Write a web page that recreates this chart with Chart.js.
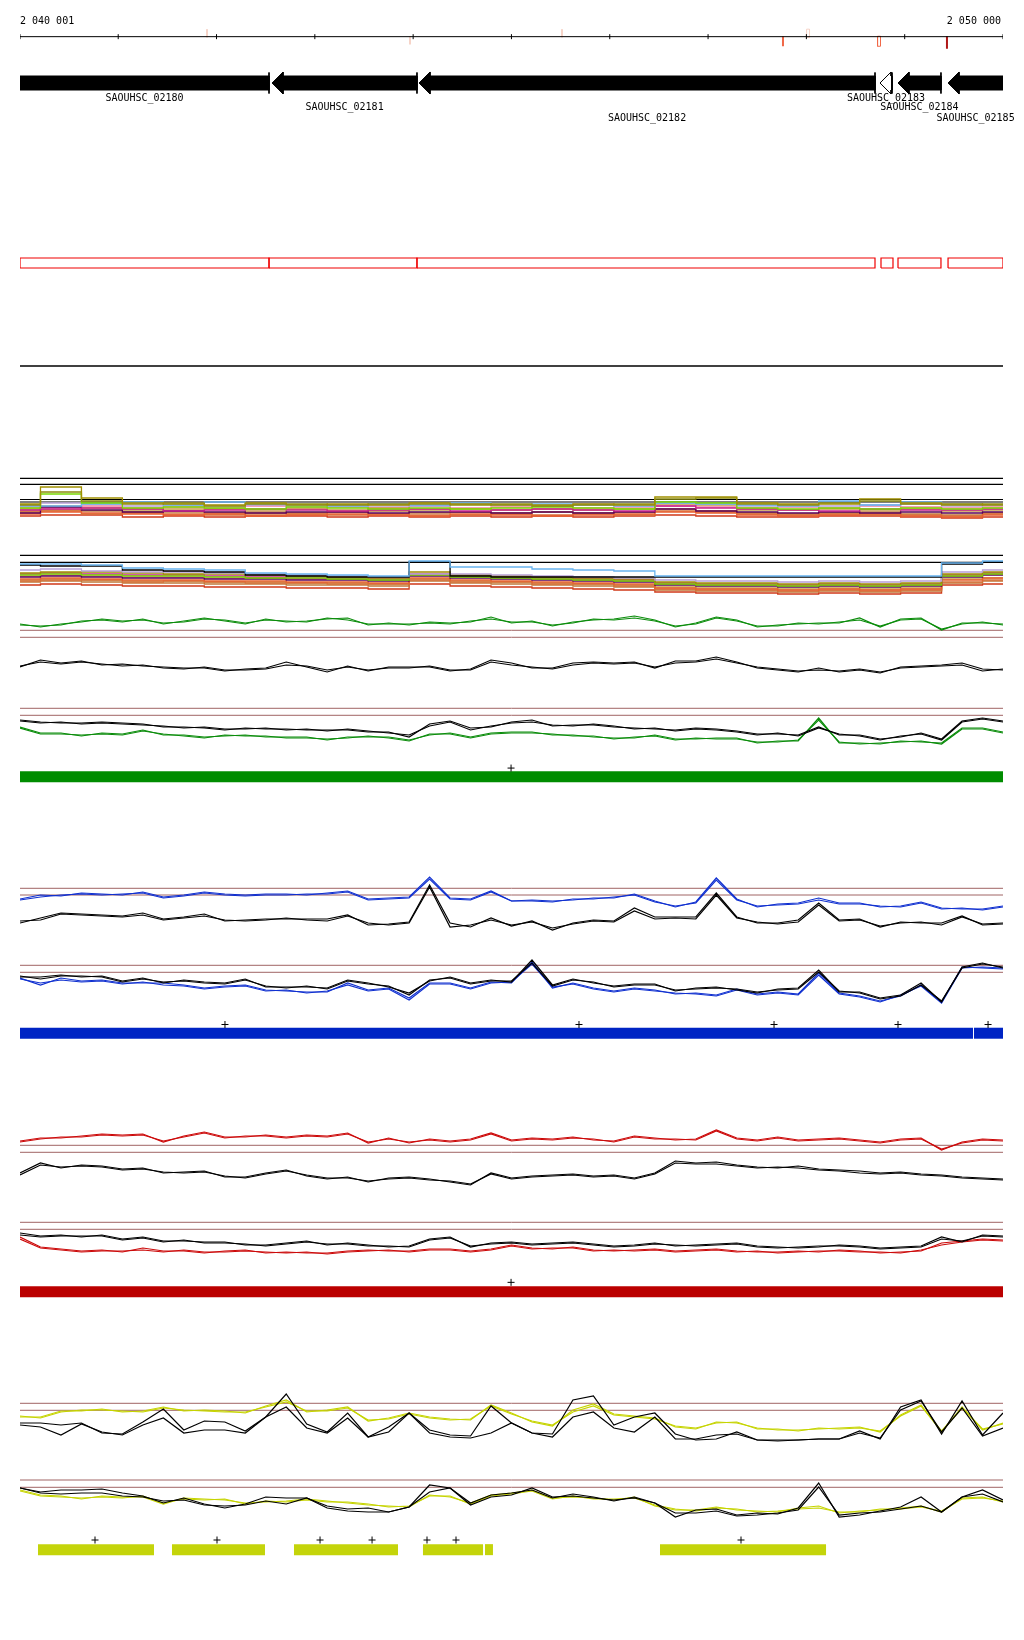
<!DOCTYPE html>
<html>
<head>
<meta charset="utf-8">
<script src="https://cdn.jsdelivr.net/npm/chart.js@4.4.1/dist/chart.umd.min.js"></script>
<style>
body { margin: 0; background: #fff; }
#page { position: relative; width: 1024px; height: 1640px; overflow: hidden; }
#page canvas { position: absolute; left: 0; }
</style>
</head>
<body>
<div id="page"></div>
<script>
// region shown
var START = 2040001, END = 2050000;
var RULER_TICKS = [2040001, 2041000, 2042000, 2043000, 2044000, 2045000, 2046000, 2047000, 2048000, 2049000, 2050000];
var RULER_LABELS = ['2 040 001', '2 050 000'];

// variants next to the ruler
var VAR_POS = [2041903, 2043968, 2045514, 2047762, 2048017, 2048739, 2049430];
var VAR_STRAND = [1, -1, 1, -1, 1, -1, -1];
var VAR_SCORE = [1, 1, 1, 2, 1, 2, 3];
var VAR_OPEN = [false, false, false, false, true, true, false];

// genes (all on the minus strand)
var GENE_NAMES = ['SAOUHSC_02180', 'SAOUHSC_02181', 'SAOUHSC_02182', 'SAOUHSC_02183', 'SAOUHSC_02184', 'SAOUHSC_02185'];
var GENE_START = [2039000, 2042565, 2044060, 2048749, 2048932, 2049441];
var GENE_END = [2042534, 2044039, 2048698, 2048871, 2049369, 2050600];
var GENE_ROW = [0, 1, 2, 0, 1, 2];
var GENE_OPEN = [false, false, false, true, false, false];

// transcript boxes
var BOX_START = [2040001, 2042534, 2044039, 2048759, 2048932, 2049441];
var BOX_END = [2042534, 2044039, 2048698, 2048881, 2049369, 2050000];

// multi-sample tracks (25 bins)
var M1_OLIVE = [26, 43, 32, 27, 26, 25, 27, 25, 26, 25, 27, 26, 25, 25, 26, 25, 33, 33, 27, 26, 26, 31, 27, 26, 25];
var M1_OLIVE2 = [25, 38, 29, 26, 27, 24, 26, 26, 25, 26, 26, 25, 26, 24, 25, 26, 31, 32, 26, 25, 27, 29, 26, 25, 26];
var M1_LIME = [22, 36, 27, 22, 23, 22, 21, 23, 22, 21, 22, 21, 22, 23, 22, 21, 28, 27, 22, 21, 22, 21, 22, 21, 22];
var M1_SKY = [24, 24, 26, 28, 25, 28, 26, 25, 24, 26, 25, 27, 25, 26, 25, 24, 27, 26, 25, 24, 29, 25, 28, 26, 25];
var M1_MAGENTA = [20, 21, 22, 21, 19, 20, 21, 20, 19, 20, 21, 19, 20, 21, 20, 19, 24, 22, 21, 20, 19, 21, 20, 20, 21];
var M1_PLUM = [17, 23, 20, 18, 19, 18, 17, 18, 18, 17, 18, 18, 17, 18, 17, 18, 21, 19, 18, 17, 18, 17, 18, 17, 18];
var M1_LILAC = [25, 27, 26, 24, 25, 24, 25, 24, 25, 24, 24, 26, 25, 24, 26, 25, 27, 26, 24, 25, 24, 25, 26, 24, 25];
var M1_ORANGE = [16, 18, 17, 16, 15, 16, 14, 15, 16, 15, 14, 16, 15, 14, 15, 16, 18, 17, 15, 14, 15, 16, 14, 13, 15];
var M1_ORANGE2 = [18, 19, 16, 17, 16, 15, 16, 16, 15, 16, 15, 15, 16, 15, 16, 15, 19, 18, 16, 15, 16, 15, 15, 14, 16];
var M1_BROWN = [19, 20, 19, 18, 18, 17, 18, 17, 18, 19, 17, 18, 17, 18, 17, 18, 21, 19, 17, 16, 17, 18, 16, 15, 17];
var M1_RED = [14, 15, 15, 13, 14, 13, 14, 14, 13, 14, 13, 14, 13, 14, 13, 14, 15, 14, 13, 13, 14, 14, 13, 12, 13];
var M1_TAN = [21, 24, 22, 20, 21, 21, 20, 21, 20, 22, 20, 21, 20, 21, 20, 21, 26, 25, 20, 20, 21, 20, 21, 19, 20];
var M1_PINK = [23, 22, 24, 22, 23, 22, 24, 22, 23, 22, 24, 22, 23, 24, 22, 23, 24, 23, 22, 23, 22, 24, 23, 22, 23];
var M1_LEVELS = [51.7, 45.7, 30.5, 28];

var M2_SKY = [36, 36, 35, 32, 31, 30, 27, 26, 25, 24, 39, 33, 33, 31, 30, 29, 24, 24, 24, 24, 24, 24, 24, 37, 39];
var M2_BLACK = [35, 34, 34, 30, 29, 28, 25, 24, 23, 23, 38, 24, 23, 23, 23, 23, 23, 23, 23, 23, 23, 23, 23, 36, 38];
var M2_LILAC = [30, 31, 29, 28, 28, 27, 26, 25, 24, 23, 26, 26, 25, 24, 23, 22, 20, 19, 19, 18, 19, 18, 19, 28, 30];
var M2_OLIVE = [27, 28, 28, 27, 26, 26, 25, 24, 23, 22, 28, 25, 24, 23, 22, 21, 18, 17, 17, 16, 17, 16, 17, 26, 28];
var M2_LIME = [25, 26, 25, 24, 24, 23, 22, 22, 21, 20, 25, 23, 22, 21, 20, 19, 16, 15, 15, 14, 15, 14, 15, 24, 26];
var M2_MAGENTA = [26, 27, 26, 25, 25, 24, 23, 22, 22, 21, 26, 24, 23, 22, 21, 20, 17, 16, 16, 15, 16, 15, 16, 25, 27];
var M2_PLUM = [23, 24, 23, 22, 22, 21, 21, 20, 20, 19, 24, 22, 21, 20, 19, 18, 15, 14, 14, 13, 14, 13, 14, 23, 25];
var M2_ORANGE = [21, 22, 21, 20, 20, 19, 19, 18, 18, 17, 22, 20, 19, 18, 17, 16, 12, 11, 11, 10, 11, 10, 11, 20, 22];
var M2_ORANGE2 = [19, 20, 20, 18, 19, 18, 17, 17, 16, 16, 20, 18, 18, 16, 16, 14, 11, 10, 10, 9, 10, 9, 10, 18, 20];
var M2_BROWN = [18, 19, 18, 17, 17, 16, 16, 15, 15, 14, 19, 17, 16, 15, 14, 13, 10, 9, 9, 8, 9, 8, 9, 17, 19];
var M2_RED = [15, 16, 15, 14, 14, 13, 13, 12, 12, 11, 16, 14, 13, 12, 11, 10, 8, 7, 7, 6, 7, 6, 7, 15, 16];
var M2_TAN = [20, 21, 20, 19, 19, 18, 18, 17, 17, 16, 21, 19, 18, 17, 16, 15, 13, 12, 12, 11, 12, 11, 12, 21, 22];
var M2_PINK = [24, 25, 24, 23, 23, 22, 22, 21, 21, 20, 25, 23, 22, 21, 20, 19, 16, 15, 15, 14, 15, 14, 15, 24, 26];
var M2_LEVELS = [44.7, 37.7];

// green condition (49 bins)
var G1_A = [15, 14, 15, 19, 20, 18, 21, 16, 19, 22, 19, 16, 21, 18, 19, 21, 22, 15, 17, 15, 18, 17, 18, 23, 17, 19, 14, 18, 20, 21, 24, 20, 13, 17, 23, 20, 13, 15, 16, 17, 17, 22, 13, 21, 22, 10, 17, 17, 16];
var G1_B = [16, 13, 16, 18, 21, 19, 20, 17, 18, 21, 20, 17, 20, 19, 18, 22, 20, 16, 16, 16, 17, 16, 19, 21, 18, 18, 15, 17, 21, 20, 22, 19, 14, 16, 22, 19, 14, 14, 17, 16, 18, 20, 14, 20, 21, 11, 16, 18, 15];
var G1_LEVELS = [9.7, 2.7];
var G2_A = [33, 40, 37, 39, 35, 36, 34, 33, 32, 32, 29, 31, 32, 38, 33, 28, 34, 29, 33, 33, 33, 29, 31, 40, 37, 32, 32, 37, 38, 37, 38, 32, 39, 39, 43, 38, 32, 30, 28, 32, 28, 30, 27, 33, 34, 35, 37, 31, 30];
var G2_B = [34, 38, 36, 38, 36, 34, 35, 32, 31, 33, 30, 30, 31, 35, 34, 30, 33, 30, 32, 32, 34, 30, 30, 38, 35, 33, 31, 35, 37, 36, 37, 33, 37, 38, 41, 37, 33, 31, 29, 30, 29, 31, 28, 32, 33, 34, 35, 29, 31];
var G3_K_A = [35, 33, 32, 32, 33, 32, 31, 28, 28, 27, 25, 27, 26, 26, 25, 25, 25, 23, 23, 18, 31, 34, 27, 28, 33, 35, 29, 30, 30, 28, 27, 26, 25, 27, 26, 24, 21, 21, 20, 28, 20, 20, 16, 18, 22, 16, 34, 37, 34];
var G3_K_B = [34, 32, 33, 31, 32, 31, 30, 29, 27, 28, 26, 26, 27, 25, 26, 24, 26, 24, 22, 20, 29, 33, 25, 29, 32, 33, 30, 29, 31, 29, 26, 27, 24, 26, 25, 23, 20, 22, 19, 27, 21, 19, 15, 19, 21, 15, 33, 36, 33];
var G3_C_A = [28, 22, 22, 19, 22, 21, 25, 20, 20, 18, 19, 20, 18, 18, 18, 15, 18, 18, 18, 15, 20, 22, 18, 22, 23, 23, 20, 20, 18, 17, 17, 20, 16, 16, 17, 17, 12, 14, 14, 37, 12, 12, 11, 14, 13, 12, 27, 27, 23];
var G3_C_B = [27, 21, 21, 20, 21, 20, 24, 21, 19, 17, 20, 19, 19, 17, 17, 16, 17, 19, 17, 14, 21, 21, 17, 21, 22, 22, 21, 19, 19, 16, 18, 19, 15, 17, 16, 16, 13, 13, 15, 35, 13, 11, 12, 13, 14, 11, 26, 26, 22];
var G3_LEVELS = [46.7, 39.7];
var G_PLUS = [2044996];
var G_BARS = [[2040001, 2050000]];

// blue condition
var B1_C_A = [36, 40, 39, 42, 41, 40, 43, 38, 40, 43, 41, 40, 41, 41, 40, 42, 44, 36, 37, 38, 58, 37, 36, 44, 34, 35, 34, 35, 37, 37, 41, 34, 28, 33, 57, 36, 28, 31, 32, 37, 32, 32, 28, 29, 33, 27, 26, 26, 29];
var B1_C_B = [35, 38, 40, 41, 40, 41, 42, 37, 39, 42, 40, 39, 40, 40, 41, 41, 43, 35, 36, 37, 56, 36, 35, 43, 34, 34, 33, 36, 36, 38, 40, 33, 29, 32, 55, 35, 29, 30, 31, 35, 31, 31, 29, 28, 32, 26, 27, 25, 28];
var B1_K_A = [12, 17, 22, 21, 20, 19, 22, 16, 18, 21, 14, 15, 16, 16, 16, 16, 20, 10, 11, 13, 50, 12, 8, 17, 9, 14, 5, 12, 15, 14, 27, 18, 18, 18, 42, 18, 12, 12, 15, 32, 15, 16, 8, 13, 12, 12, 19, 10, 11];
var B1_K_B = [14, 15, 21, 20, 19, 18, 20, 15, 17, 19, 15, 14, 15, 17, 15, 14, 19, 12, 10, 12, 48, 8, 10, 15, 10, 13, 7, 11, 14, 13, 24, 16, 17, 16, 40, 17, 13, 11, 13, 30, 14, 15, 9, 12, 13, 10, 18, 11, 12];
var B1_LEVELS = [46.7, 40];
var B2_K_A = [33, 33, 35, 33, 34, 29, 32, 27, 30, 28, 27, 31, 23, 23, 23, 22, 30, 27, 23, 17, 29, 33, 27, 30, 28, 50, 25, 31, 27, 24, 26, 26, 19, 22, 23, 20, 17, 21, 22, 40, 18, 18, 12, 15, 27, 8, 43, 47, 42];
var B2_K_B = [34, 31, 34, 34, 33, 28, 31, 28, 29, 27, 26, 30, 24, 22, 24, 21, 29, 26, 24, 15, 30, 32, 26, 29, 29, 47, 24, 30, 28, 23, 25, 25, 20, 21, 22, 21, 18, 20, 21, 38, 19, 17, 11, 14, 25, 9, 42, 46, 43];
var B2_C_A = [32, 25, 32, 29, 30, 27, 27, 27, 25, 22, 24, 25, 20, 19, 18, 18, 27, 20, 22, 12, 27, 27, 22, 28, 27, 48, 22, 27, 22, 19, 22, 20, 16, 17, 15, 21, 16, 18, 16, 37, 17, 14, 9, 14, 25, 8, 43, 42, 41];
var B2_C_B = [31, 27, 30, 28, 29, 26, 28, 25, 24, 21, 23, 24, 19, 20, 17, 19, 25, 19, 21, 10, 26, 26, 21, 27, 28, 46, 23, 26, 21, 18, 21, 19, 17, 16, 14, 20, 15, 17, 15, 35, 16, 13, 8, 15, 24, 7, 42, 43, 42];
var B2_LEVELS = [44.7, 37.7];
var B_PLUS = [2042086, 2045687, 2047671, 2048932, 2049848];
var B_BARS = [[2040001, 2049695], [2049705, 2050000]];

// red condition
var R1_C_A = [59, 62, 62, 64, 66, 65, 66, 58, 64, 68, 63, 63, 65, 63, 65, 64, 67, 57, 62, 57, 61, 59, 61, 67, 60, 62, 61, 63, 60, 59, 64, 62, 60, 61, 70, 62, 60, 63, 60, 61, 62, 60, 58, 61, 62, 50, 58, 61, 60];
var R1_C_B = [58, 61, 63, 63, 65, 64, 65, 59, 63, 67, 62, 64, 64, 62, 64, 63, 66, 58, 61, 58, 60, 58, 60, 66, 59, 61, 60, 62, 61, 58, 63, 61, 61, 60, 69, 61, 59, 62, 59, 60, 61, 59, 57, 60, 61, 51, 57, 60, 59];
var R1_K_A = [27, 37, 32, 35, 34, 31, 32, 27, 28, 29, 23, 23, 27, 30, 24, 21, 23, 18, 22, 23, 21, 18, 15, 27, 22, 24, 25, 26, 24, 25, 22, 27, 39, 37, 38, 35, 33, 32, 34, 31, 30, 29, 27, 28, 26, 25, 23, 22, 21];
var R1_K_B = [25, 35, 33, 34, 33, 30, 31, 28, 27, 28, 24, 22, 26, 29, 25, 22, 22, 19, 21, 22, 20, 19, 16, 26, 21, 23, 24, 25, 23, 24, 21, 26, 37, 36, 36, 34, 32, 33, 32, 30, 29, 27, 26, 27, 25, 24, 22, 21, 20];
var R1_LEVELS = [54.7, 47.7];
var R2_K_A = [37, 34, 35, 33, 35, 31, 33, 29, 29, 28, 28, 25, 25, 27, 29, 25, 27, 25, 23, 24, 31, 33, 23, 27, 28, 26, 27, 28, 26, 24, 25, 27, 24, 25, 26, 27, 24, 23, 22, 23, 25, 24, 22, 23, 24, 33, 28, 35, 34];
var R2_K_B = [35, 33, 34, 34, 34, 30, 32, 28, 30, 27, 27, 26, 24, 26, 28, 26, 26, 24, 24, 23, 30, 32, 24, 26, 27, 25, 26, 27, 25, 23, 24, 26, 25, 24, 25, 26, 23, 22, 23, 24, 24, 23, 21, 22, 23, 31, 29, 34, 33];
var R2_C_A = [33, 23, 21, 19, 20, 18, 22, 19, 19, 17, 19, 20, 17, 18, 17, 17, 19, 20, 19, 19, 21, 21, 19, 21, 25, 22, 21, 23, 20, 19, 20, 21, 19, 20, 21, 19, 18, 18, 19, 18, 20, 19, 17, 18, 19, 27, 29, 31, 30];
var R2_C_B = [31, 22, 20, 18, 19, 19, 20, 18, 20, 18, 18, 19, 18, 17, 18, 16, 18, 19, 20, 18, 20, 20, 18, 20, 24, 21, 22, 22, 19, 20, 19, 20, 18, 19, 20, 18, 19, 17, 18, 19, 19, 18, 18, 17, 20, 25, 28, 30, 29];
var R2_LEVELS = [47.7, 40.7];
var R_PLUS = [2044996];
var R_BARS = [[2040001, 2050000]];

// yellow condition
var Y1_C_A = [33, 33, 39, 39, 41, 38, 39, 43, 39, 40, 39, 37, 44, 50, 38, 40, 43, 29, 32, 37, 33, 31, 30, 45, 37, 28, 24, 40, 46, 36, 34, 32, 23, 21, 28, 27, 22, 20, 20, 21, 22, 23, 18, 35, 45, 18, 43, 20, 27];
var Y1_C_B = [34, 32, 38, 40, 40, 39, 38, 42, 40, 39, 38, 38, 43, 48, 39, 39, 42, 30, 31, 36, 32, 30, 31, 44, 36, 29, 25, 38, 44, 35, 33, 31, 24, 22, 27, 28, 21, 21, 19, 22, 21, 22, 19, 34, 44, 19, 42, 21, 26];
var Y1_K_A = [27, 27, 25, 27, 17, 16, 28, 41, 20, 29, 28, 19, 33, 56, 26, 18, 37, 13, 23, 37, 20, 15, 14, 44, 27, 17, 16, 50, 54, 25, 33, 37, 16, 10, 11, 18, 10, 10, 10, 11, 11, 19, 11, 43, 50, 16, 49, 15, 37];
var Y1_K_B = [25, 23, 15, 26, 18, 15, 25, 32, 17, 20, 20, 17, 33, 43, 22, 17, 32, 13, 18, 37, 17, 13, 12, 17, 27, 17, 13, 33, 38, 22, 18, 33, 11, 11, 15, 16, 10, 9, 10, 11, 11, 17, 12, 40, 49, 18, 42, 14, 22];
var Y1_LEVELS = [46.7, 39.7];
var Y2_C_A = [40, 35, 34, 31, 34, 33, 33, 26, 32, 31, 30, 27, 28, 29, 31, 29, 27, 25, 24, 23, 35, 33, 27, 35, 37, 40, 32, 33, 32, 30, 33, 24, 20, 20, 23, 20, 19, 18, 22, 24, 17, 19, 20, 22, 24, 18, 32, 33, 28];
var Y2_C_B = [39, 34, 33, 32, 33, 32, 34, 27, 31, 30, 31, 26, 29, 28, 30, 28, 28, 26, 23, 24, 34, 34, 26, 34, 36, 39, 31, 34, 31, 31, 32, 25, 21, 19, 22, 21, 18, 19, 21, 22, 18, 18, 21, 21, 23, 19, 31, 32, 29];
var Y2_K_A = [42, 38, 40, 40, 41, 37, 34, 27, 32, 26, 22, 26, 33, 32, 32, 24, 21, 22, 18, 23, 45, 42, 27, 35, 37, 40, 32, 36, 33, 29, 33, 27, 13, 20, 21, 15, 17, 16, 22, 47, 13, 15, 19, 23, 33, 18, 33, 40, 30];
var Y2_K_B = [42, 37, 36, 37, 37, 34, 33, 29, 30, 25, 24, 25, 29, 26, 32, 22, 19, 18, 18, 23, 38, 42, 25, 33, 35, 42, 33, 34, 32, 30, 32, 27, 17, 17, 19, 14, 15, 17, 20, 43, 15, 17, 18, 21, 24, 18, 33, 36, 28];
var Y2_LEVELS = [50, 42.7];
var Y_PLUS = [2040764, 2042005, 2043053, 2043582, 2044141, 2044436, 2047335];
var Y_BARS = [[2040184, 2041364], [2041547, 2042493], [2042788, 2043846], [2044100, 2044711], [2044731, 2044812], [2046511, 2048200]];

// ---------- styles ----------
var BROWN = '#a06464';
var GREEN = '#0b8c0b', GREEN_BAR = '#008c00';
var BLUE = '#1030d0', BLUE_BAR = '#0024c4';
var RED = '#cc0a0a', RED_BAR = '#bb0000';
var YEL = '#c6d400', YEL_BAR = '#c4d40a';
var VAR_COLORS = {1: '#f6d4c8', 2: '#f06848', 3: '#b01818'};
var VAR_LEN = {1: 10, 2: 12, 3: 15};
var FONT = '10px "DejaVu Sans Mono", "Liberation Mono", monospace';

var page = document.getElementById('page');

function xy(values) {
  var n = values.length - 1;
  return values.map(function (v, i) { return {x: START + (END - START) * i / n, y: v}; });
}
function series(values, color, extra) {
  var ds = {data: xy(values), showLine: true, borderColor: color, borderWidth: 1.2, pointRadius: 0, fill: false};
  return Object.assign(ds, extra || {});
}
function levels(vals, color, width) {
  return vals.map(function (v) {
    return {data: [{x: START, y: v}, {x: END, y: v}], showLine: true, borderColor: color, borderWidth: width || 1, pointRadius: 0};
  });
}
function plus(pos, v) {
  return {data: pos.map(function (p) { return {x: p, y: v}; }), pointStyle: 'cross', pointRadius: 3.5, borderColor: '#000', borderWidth: 1};
}
function bars(list, v, color, width) {
  return list.map(function (b) {
    return {data: [{x: b[0], y: v}, {x: b[1], y: v}], showLine: true, borderColor: color, borderWidth: width, borderCapStyle: 'butt', pointRadius: 0};
  });
}

function track(top, height, ymin, ymax, datasets, plugins) {
  var c = document.createElement('canvas');
  c.width = 1024; c.height = height;
  c.style.width = '1024px'; c.style.height = height + 'px'; c.style.top = top + 'px';
  page.appendChild(c);
  return new Chart(c, {
    type: 'scatter',
    data: {datasets: datasets},
    options: {
      responsive: false, animation: false, events: [],
      layout: {padding: {left: 20, right: 21, top: 0, bottom: 0}},
      plugins: {legend: {display: false}, tooltip: {enabled: false}},
      scales: {
        x: {type: 'linear', min: START, max: END, display: false},
        y: {type: 'linear', min: ymin, max: ymax, display: false}
      }
    },
    plugins: plugins || []
  });
}

// ruler
var rulerSets = [];
rulerSets.push({data: RULER_TICKS.map(function (t) { return {x: t, y: 22}; }), pointStyle: 'line', rotation: 90, pointRadius: 2.5, borderColor: '#000', borderWidth: 1});
rulerSets.push({data: [{x: START, y: 22}, {x: END, y: 22}], showLine: true, borderColor: '#000', borderWidth: 1, pointRadius: 0});
VAR_POS.forEach(function (p, i) {
  var col = VAR_COLORS[VAR_SCORE[i]];
  var y0 = VAR_STRAND[i] > 0 ? 21 : 22.5;
  var y1 = y0 + VAR_STRAND[i] * VAR_LEN[VAR_SCORE[i]];
  if (VAR_OPEN[i]) {
    rulerSets.push({data: [{x: p - 15, y: y0}, {x: p - 15, y: y1}, {x: p + 15, y: y1}, {x: p + 15, y: y0}, {x: p - 15, y: y0}],
      showLine: true, borderColor: col, borderWidth: 1, pointRadius: 0});
  } else {
    rulerSets.push({data: [{x: p, y: y0}, {x: p, y: y1}], showLine: true, borderColor: col, borderWidth: 2, borderCapStyle: 'butt', pointRadius: 0});
  }
});
var rulerText = {
  id: 'rulerText',
  afterDraw: function (chart) {
    var ctx = chart.ctx, x = chart.scales.x, y = chart.scales.y;
    ctx.save();
    ctx.font = FONT; ctx.fillStyle = '#000'; ctx.textBaseline = 'middle';
    ctx.textAlign = 'left';
    ctx.fillText(RULER_LABELS[0], x.getPixelForValue(START), y.getPixelForValue(40));
    ctx.textAlign = 'right';
    ctx.fillText(RULER_LABELS[1], x.getPixelForValue(END) - 2, y.getPixelForValue(40));
    ctx.restore();
  }
};
track(0, 60, 0, 60, rulerSets, [rulerText]);

// genes
var HEAD_BP = 112, HEAD = 11, BODY = 7;
var geneSets = [];
GENE_NAMES.forEach(function (name, i) {
  var s = GENE_START[i], e = GENE_END[i], h = Math.min(HEAD_BP, e - s);
  geneSets.push({
    data: [{x: s, y: 0}, {x: s + h, y: HEAD}, {x: s + h, y: BODY}, {x: e, y: BODY}, {x: e, y: -BODY}, {x: s + h, y: -BODY}, {x: s + h, y: -HEAD}, {x: s, y: 0}],
    showLine: true, fill: 'shape', backgroundColor: GENE_OPEN[i] ? '#fff' : '#000', borderColor: '#000', borderWidth: 1, pointRadius: 0
  });
});
var endLines = [];
GENE_END.forEach(function (e) { endLines.push({x: e, y: 10.5}, {x: e, y: -10.5}, {x: e, y: null}); });
geneSets.unshift({data: endLines, showLine: true, spanGaps: false, borderColor: '#000', borderWidth: 1, pointRadius: 0});
var LABEL_ROWS = [-15, -24, -35];
var geneText = {
  id: 'geneText',
  afterDraw: function (chart) {
    var ctx = chart.ctx, x = chart.scales.x, y = chart.scales.y;
    ctx.save();
    ctx.font = FONT; ctx.fillStyle = '#000'; ctx.textAlign = 'center'; ctx.textBaseline = 'middle';
    GENE_NAMES.forEach(function (name, i) {
      var mid = (Math.max(GENE_START[i], START) + Math.min(GENE_END[i], END)) / 2;
      ctx.fillText(name, x.getPixelForValue(mid), y.getPixelForValue(LABEL_ROWS[GENE_ROW[i]]));
    });
    ctx.restore();
  }
};
track(60, 70, -47, 23, geneSets, [geneText]);

// transcript boxes + separator
var boxSets = BOX_START.map(function (s, i) {
  var e = BOX_END[i];
  return {data: [{x: s, y: 107}, {x: s, y: 117}, {x: e, y: 117}, {x: e, y: 107}, {x: s, y: 107}],
    showLine: true, borderColor: '#f00000', borderWidth: 1.2, pointRadius: 0};
});
boxSets = boxSets.concat(levels([9], '#000', 1.6));
track(250, 125, 0, 125, boxSets);

// multi-sample tracks
var st = {stepped: 'middle', borderWidth: 1.3};
track(470, 60, 0, 60, [
  series(M1_OLIVE, '#a09000', st), series(M1_OLIVE2, '#8c8c10', st), series(M1_LIME, '#78d800', st), series(M1_SKY, '#68b4f0', st),
  series(M1_MAGENTA, '#c8208c', st), series(M1_PLUM, '#580058', st), series(M1_LILAC, '#b8a0d8', st),
  series(M1_ORANGE, '#e86030', st), series(M1_ORANGE2, '#d8703a', st), series(M1_BROWN, '#c07838', st), series(M1_RED, '#d03818', st),
  series(M1_TAN, '#c89848', st), series(M1_PINK, '#f080a0', st)
].concat(levels(M1_LEVELS, '#000', 1.2)));

track(530, 70, 0, 70, [
  series(M2_SKY, '#68b4f0', st), series(M2_BLACK, '#000', st), series(M2_LILAC, '#b8a0d8', st),
  series(M2_OLIVE, '#a09000', st), series(M2_LIME, '#78d800', st), series(M2_MAGENTA, '#c8208c', st),
  series(M2_PLUM, '#580058', st), series(M2_ORANGE, '#e86030', st), series(M2_ORANGE2, '#d8703a', st), series(M2_BROWN, '#c07838', st),
  series(M2_RED, '#d03818', st), series(M2_TAN, '#c89848', st), series(M2_PINK, '#f080a0', st)
].concat(levels(M2_LEVELS, '#000', 1.2)));

// green
track(600, 40, 0, 40, [series(G1_A, GREEN), series(G1_B, GREEN)].concat(levels(G1_LEVELS, BROWN)));
track(640, 60, 0, 60, [series(G2_A, '#000'), series(G2_B, '#000')]);
track(700, 55, 0, 55, [series(G3_K_A, '#000'), series(G3_K_B, '#000'), series(G3_C_A, GREEN), series(G3_C_B, GREEN)].concat(levels(G3_LEVELS, BROWN)));
track(755, 35, 0, 35, [plus(G_PLUS, 23.7)].concat(bars(G_BARS, 11.5, GREEN_BAR, 11)));

// blue
track(860, 75, 0, 75, [series(B1_C_A, BLUE), series(B1_C_B, BLUE), series(B1_K_A, '#000'), series(B1_K_B, '#000')].concat(levels(B1_LEVELS, BROWN)));
track(935, 75, 0, 75, [series(B2_K_A, '#000'), series(B2_K_B, '#000'), series(B2_C_A, BLUE), series(B2_C_B, BLUE)].concat(levels(B2_LEVELS, BROWN)));
track(1010, 35, 0, 35, [plus(B_PLUS, 21.7)].concat(bars(B_BARS, 9.5, BLUE_BAR, 11)));

// red
track(1120, 80, 0, 80, [series(R1_C_A, RED), series(R1_C_B, RED), series(R1_K_A, '#000'), series(R1_K_B, '#000')].concat(levels(R1_LEVELS, BROWN)));
track(1200, 70, 0, 70, [series(R2_K_A, '#000'), series(R2_K_B, '#000'), series(R2_C_A, RED), series(R2_C_B, RED)].concat(levels(R2_LEVELS, BROWN)));
track(1270, 35, 0, 35, [plus(R_PLUS, 24.7)].concat(bars(R_BARS, 11.5, RED_BAR, 11)));

// yellow
track(1380, 70, 0, 70, [series(Y1_K_A, '#000'), series(Y1_K_B, '#000'), series(Y1_C_A, YEL), series(Y1_C_B, YEL)].concat(levels(Y1_LEVELS, BROWN)));
track(1450, 80, 0, 80, [series(Y2_K_A, '#000'), series(Y2_K_B, '#000'), series(Y2_C_A, YEL), series(Y2_C_B, YEL)].concat(levels(Y2_LEVELS, BROWN)));
track(1530, 35, 0, 35, [plus(Y_PLUS, 28)].concat(bars(Y_BARS, 14.5, YEL_BAR, 11)));
</script>
</body>
</html>
